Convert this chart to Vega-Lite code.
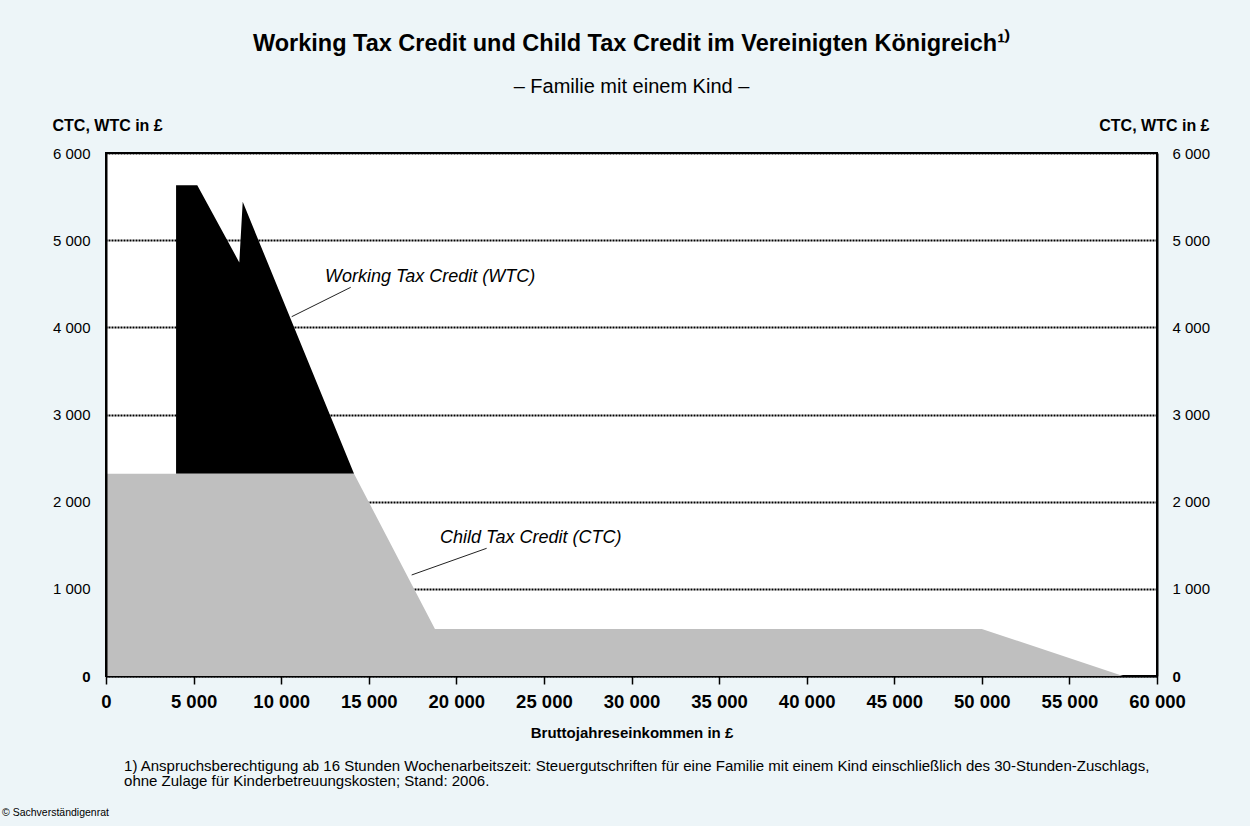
{
  "$schema": "https://vega.github.io/schema/vega-lite/v6.json",
  "width": 1051,
  "height": 523,
  "autosize": {"type": "none"},
  "padding": {"left": 106, "top": 153, "right": 93, "bottom": 150},
  "background": "#EDF5F8",
  "title": {
    "text": "Working Tax Credit und Child Tax Credit im Vereinigten Königreich¹⁾",
    "subtitle": "– Familie mit einem Kind –",
    "font": "Liberation Sans",
    "fontSize": 23.5,
    "fontWeight": "bold",
    "color": "black",
    "subtitleFont": "Liberation Sans",
    "subtitleFontSize": 20,
    "subtitleColor": "black",
    "subtitlePadding": 22,
    "anchor": "middle",
    "offset": 20
  },
  "config": {
    "view": {"stroke": "black", "strokeWidth": 2, "fill": "white"},
    "axis": {"labelFont": "Liberation Sans", "titleFont": "Liberation Sans", "labelColor": "black", "titleColor": "black"}
  },
  "datasets": {
    "wtc": [
      {"x": 4000, "top": 5630, "base": 2320},
      {"x": 5210, "top": 5630, "base": 2320},
      {"x": 7610, "top": 4745, "base": 2320},
      {"x": 7805, "top": 5440, "base": 2320},
      {"x": 14160, "top": 2320, "base": 2320}
    ],
    "ctc": [
      {"x": 0, "ctc": 2320},
      {"x": 14160, "ctc": 2320},
      {"x": 18780, "ctc": 540},
      {"x": 50000, "ctc": 540},
      {"x": 58060, "ctc": 0},
      {"x": 60000, "ctc": 0}
    ],
    "one": [{"n": 1}]
  },
  "resolve": {"axis": {"y": "independent"}},
  "layer": [
    {
      "data": {"name": "wtc"},
      "mark": {"type": "area", "color": "black", "interpolate": "linear"},
      "encoding": {
        "x": {
          "field": "x", "type": "quantitative",
          "scale": {"domain": [0, 60000], "nice": false},
          "axis": {
            "values": [0, 5000, 10000, 15000, 20000, 25000, 30000, 35000, 40000, 45000, 50000, 55000, 60000],
            "labelExpr": "replace(format(datum.value, ','), ',', ' ')",
            "grid": false,
            "domain": true, "domainColor": "black", "domainWidth": 2,
            "ticks": true, "tickColor": "black", "tickWidth": 1.5, "tickSize": 8,
            "labelFontSize": 18.5, "labelFontWeight": "bold", "labelPadding": 8,
            "labelFlush": false,
            "title": "Bruttojahreseinkommen in £",
            "titleFontSize": 15, "titleFontWeight": "bold", "titlePadding": 15
          }
        },
        "y": {
          "field": "top", "type": "quantitative",
          "scale": {"domain": [0, 6000], "nice": false},
          "axis": {
            "orient": "left",
            "values": [0, 1000, 2000, 3000, 4000, 5000, 6000],
            "labelExpr": "replace(format(datum.value, ','), ',', ' ')",
            "labelFontWeight": {"condition": {"test": "datum.value == 0", "value": "bold"}, "value": "normal"},
            "grid": false, "ticks": false,
            "domain": true, "domainColor": "black", "domainWidth": 2,
            "labelFontSize": 15, "labelPadding": 16,
            "title": "CTC, WTC in £",
            "titleAngle": 0, "titleAlign": "left", "titleBaseline": "alphabetic",
            "titleX": -54, "titleY": -23,
            "titleFontSize": 16, "titleFontWeight": "bold",
            "zindex": 1
          }
        },
        "y2": {"field": "base"}
      }
    },
    {
      "data": {"name": "ctc"},
      "mark": {"type": "area", "color": "#BFBFBF", "interpolate": "linear"},
      "encoding": {
        "x": {"field": "x", "type": "quantitative"},
        "y": {
          "field": "ctc", "type": "quantitative",
          "axis": {
            "orient": "right",
            "values": [0, 1000, 2000, 3000, 4000, 5000, 6000],
            "labelExpr": "replace(format(datum.value, ','), ',', ' ')",
            "labelFontWeight": {"condition": {"test": "datum.value == 0", "value": "bold"}, "value": "normal"},
            "grid": true, "gridColor": "black", "gridDash": [2, 1], "gridWidth": 2,
            "ticks": false,
            "domain": true, "domainColor": "black", "domainWidth": 2,
            "labelFontSize": 15, "labelPadding": 15,
            "title": "CTC, WTC in £",
            "titleAngle": 0, "titleAlign": "right", "titleBaseline": "alphabetic",
            "titleX": 52, "titleY": -23,
            "titleFontSize": 16, "titleFontWeight": "bold",
            "zindex": 0
          }
        }
      }
    },
    {
      "data": {"name": "one"},
      "mark": {"type": "text", "text": "Working Tax Credit (WTC)", "font": "Liberation Sans", "fontSize": 18, "fontStyle": "italic", "align": "left", "baseline": "middle", "color": "black"},
      "encoding": {
        "x": {"datum": 12500, "type": "quantitative"},
        "y": {"datum": 4577, "type": "quantitative", "axis": null}
      }
    },
    {
      "data": {"name": "one"},
      "mark": {"type": "rule", "color": "#222222", "strokeWidth": 1},
      "encoding": {
        "x": {"datum": 13970, "type": "quantitative"},
        "y": {"datum": 4459, "type": "quantitative", "axis": null},
        "x2": {"datum": 10600},
        "y2": {"datum": 4122}
      }
    },
    {
      "data": {"name": "one"},
      "mark": {"type": "text", "text": "Child Tax Credit (CTC)", "font": "Liberation Sans", "fontSize": 18, "fontStyle": "italic", "align": "left", "baseline": "middle", "color": "black"},
      "encoding": {
        "x": {"datum": 19070, "type": "quantitative"},
        "y": {"datum": 1583, "type": "quantitative", "axis": null}
      }
    },
    {
      "data": {"name": "one"},
      "mark": {"type": "rule", "color": "#222222", "strokeWidth": 1},
      "encoding": {
        "x": {"datum": 21730, "type": "quantitative"},
        "y": {"datum": 1465, "type": "quantitative", "axis": null},
        "x2": {"datum": 17450},
        "y2": {"datum": 1159}
      }
    },
    {
      "data": {"name": "one"},
      "mark": {"type": "text", "text": "1) Anspruchsberechtigung ab 16 Stunden Wochenarbeitszeit: Steuergutschriften für eine Familie mit einem Kind einschließlich des 30-Stunden-Zuschlags,\nohne Zulage für Kinderbetreuungskosten; Stand: 2006.", "lineBreak": "\n", "lineHeight": 15, "font": "Liberation Sans", "fontSize": 15, "align": "left", "baseline": "alphabetic", "color": "black"},
      "encoding": {
        "x": {"datum": 1030, "type": "quantitative"},
        "y": {"datum": -1090, "type": "quantitative", "axis": null}
      }
    },
    {
      "data": {"name": "one"},
      "mark": {"type": "text", "text": "© Sachverständigenrat", "font": "Liberation Sans", "fontSize": 10.5, "align": "left", "baseline": "alphabetic", "color": "black"},
      "encoding": {
        "x": {"datum": -5937, "type": "quantitative"},
        "y": {"datum": -1606, "type": "quantitative", "axis": null}
      }
    }
  ]
}
